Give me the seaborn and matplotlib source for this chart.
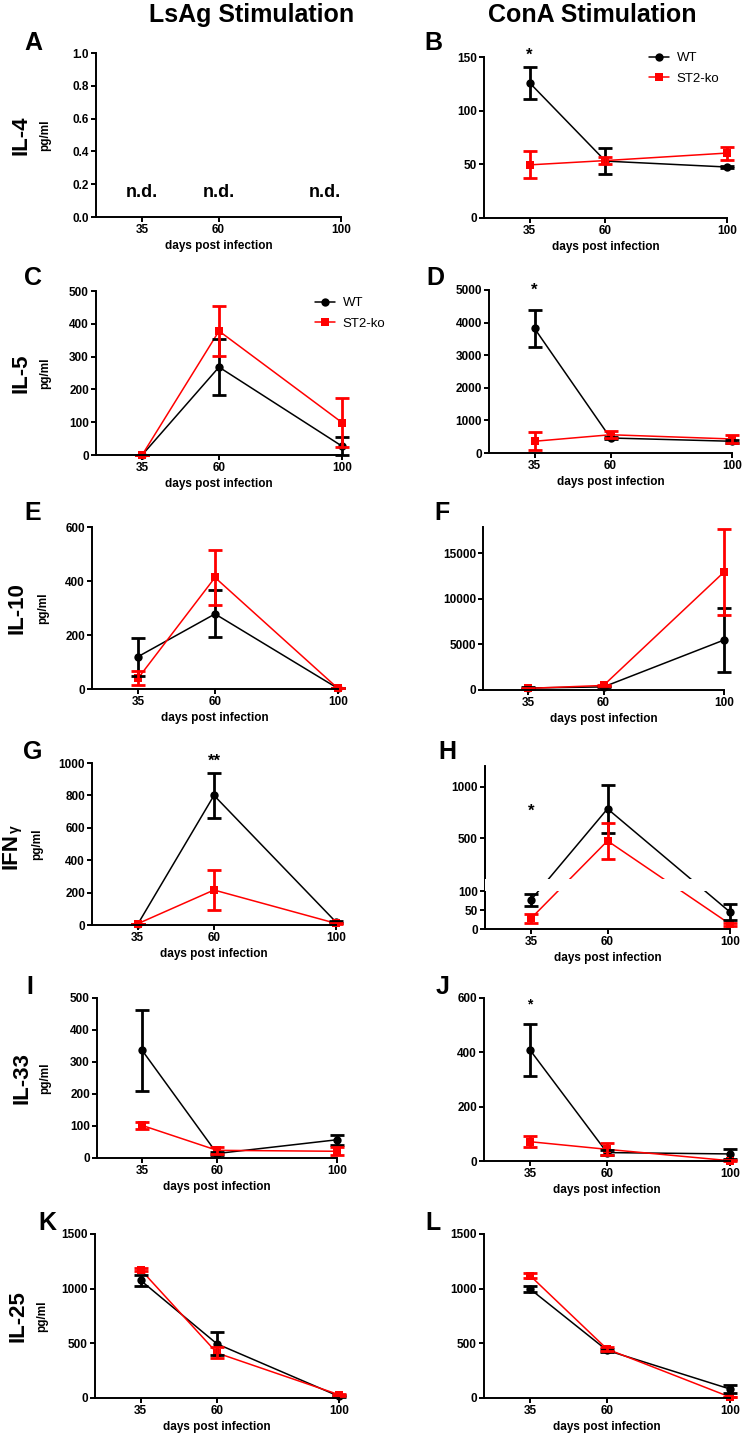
import numpy as np
import pandas as pd
import matplotlib
matplotlib.use('Agg')
import matplotlib.pyplot as plt
import seaborn as sns
from matplotlib.ticker import FormatStrFormatter

sns.set_style("ticks")
plt.rcParams['font.family'] = ['Liberation Sans', 'DejaVu Sans']
plt.rcParams['font.weight'] = 'bold'
for key in ['axes.edgecolor', 'xtick.color', 'ytick.color', 'text.color', 'axes.labelcolor']:
    plt.rcParams[key] = 'black'

# ---- data (mean +/- SEM) ----
days = [35, 60, 100]
groups = ['WT', 'ST2-ko']

# A: IL-4, LsAg -> not detected
nd_days = [35, 60, 100]
nd_level = 0.15

# B: IL-4, ConA
B_wt = [126, 53, 47.5];      B_wt_sem = [15, 12, 1]
B_ko = [49.5, 53.5, 60.5];   B_ko_sem = [12.5, 3, 6]
# C: IL-5, LsAg
C_wt = [0, 268, 27];         C_wt_sem = [0, 85, 27]
C_ko = [0, 378, 99];         C_ko_sem = [0, 75, 75]
# D: IL-5, ConA
D_wt = [3820, 460, 360];     D_wt_sem = [575, 40, 40]
D_ko = [360, 560, 430];      D_ko_sem = [275, 100, 120]
# E: IL-10, LsAg
E_wt = [120, 278, 2];        E_wt_sem = [70, 87, 0]
E_ko = [40, 413, 2];         E_ko_sem = [25, 103, 0]
# F: IL-10, ConA
F_wt = [220, 340, 5490];     F_wt_sem = [60, 60, 3500]
F_ko = [180, 500, 12950];    F_ko_sem = [60, 80, 4700]
# G: IFNg, LsAg
G_wt = [5, 800, 18];         G_wt_sem = [0, 137, 8]
G_ko = [8, 216, 10];         G_ko_sem = [0, 122, 5]
# H: IFNg, ConA (segmented y axis)
H_wt = [77, 785, 45];        H_wt_sem = [15, 230, 21]
H_ko = [28, 474, 13];        H_ko_sem = [12, 175, 4]
# I: IL-33, LsAg
I_wt = [337, 14, 57];        I_wt_sem = [127, 5, 16]
I_ko = [102, 24, 21];        I_ko_sem = [12, 10, 12]
# J: IL-33, ConA
J_wt = [408, 31, 26];        J_wt_sem = [95, 10, 20]
J_ko = [71, 43, 1];          J_ko_sem = [20, 22, 2]
# K: IL-25, LsAg
K_wt = [1075, 495, 15];      K_wt_sem = [50, 105, 8]
K_ko = [1174, 412, 30];      K_ko_sem = [15, 50, 8]
# L: IL-25, ConA
L_wt = [997, 436, 82];       L_wt_sem = [30, 12, 35]
L_ko = [1119, 448, 9];       L_ko_sem = [20, 15, 4]

row_labels = ['IL-4', 'IL-5', 'IL-10', 'IFN', 'IL-33', 'IL-25']
col_titles = ['LsAg Stimulation', 'ConA Stimulation']
x_title = 'days post infection'

series = {
    'B': (B_wt, B_wt_sem, B_ko, B_ko_sem), 'C': (C_wt, C_wt_sem, C_ko, C_ko_sem),
    'D': (D_wt, D_wt_sem, D_ko, D_ko_sem), 'E': (E_wt, E_wt_sem, E_ko, E_ko_sem),
    'F': (F_wt, F_wt_sem, F_ko, F_ko_sem), 'G': (G_wt, G_wt_sem, G_ko, G_ko_sem),
    'H': (H_wt, H_wt_sem, H_ko, H_ko_sem), 'I': (I_wt, I_wt_sem, I_ko, I_ko_sem),
    'J': (J_wt, J_wt_sem, J_ko, J_ko_sem), 'K': (K_wt, K_wt_sem, K_ko, K_ko_sem),
    'L': (L_wt, L_wt_sem, L_ko, L_ko_sem),
}
ylims = {'A': (0, 1), 'B': (0, 150), 'C': (0, 500), 'D': (0, 5000), 'E': (0, 600),
         'F': (0, 17900), 'G': (0, 1000), 'H': (0, 1200), 'I': (0, 500), 'J': (0, 600),
         'K': (0, 1500), 'L': (0, 1500)}
yticks = {'A': [0, 0.2, 0.4, 0.6, 0.8, 1.0], 'B': [0, 50, 100, 150], 'C': range(0, 501, 100),
          'D': range(0, 5001, 1000), 'E': [0, 200, 400, 600], 'F': [0, 5000, 10000, 15000],
          'G': range(0, 1001, 200), 'H': [0, 50, 100, 500, 1000], 'I': range(0, 501, 100),
          'J': [0, 200, 400, 600], 'K': [0, 500, 1000, 1500], 'L': [0, 500, 1000, 1500]}
stars = {'B': (35, 152, '*'), 'D': (35, 5000, '*'), 'G': (60, 1008, '**'),
         'H': (35, 762, '*'), 'J': (35, 576, '*')}

# ---- layout (pixels) ----
W, H = 747, 1439
fx = lambda px: px / W
fy = lambda py: 1 - py / H
box = {'A': (96, 341, 53, 217), 'B': (484, 727, 57, 218),
       'C': (96, 342, 291, 455), 'D': (489, 732, 290, 453),
       'E': (92, 338, 527, 689), 'F': (483, 724, 527, 690),
       'G': (92, 336, 763, 925), 'H': (485, 730, 766, 929),
       'I': (97, 337, 998, 1158), 'J': (484, 730, 998, 1161),
       'K': (95, 339, 1234, 1398), 'L': (484, 730, 1234, 1398)}
letter_pos = {'A': (33, 43), 'B': (433, 43), 'C': (33, 278), 'D': (435, 278),
              'E': (33, 513), 'F': (442, 513), 'G': (33, 752), 'H': (447, 752),
              'I': (30, 987), 'J': (443, 987), 'K': (47, 1223), 'L': (433, 1223)}
legend_anchor = {'B': (649, 52), 'C': (315, 297)}
row_label_x = [21, 21, 17, 11, 22, 18]
unit_x = [45, 45, 43, 37, 45, 42]
palette = {'WT': 'black', 'ST2-ko': 'red'}
markers = {'WT': 'o', 'ST2-ko': 's'}


# segmented axis for panel H: 0-100 below, 100-1200 above
def seg_fwd(y):
    y = np.asarray(y, dtype=float)
    return np.where(y <= 100, y * 0.38, 50 + (y - 100) * 0.104)


def seg_inv(u):
    u = np.asarray(u, dtype=float)
    return np.where(u <= 38, u / 0.38, np.where(u < 50, 100.0, 100 + (u - 50) / 0.104))


fig = plt.figure(figsize=(W / 100, H / 100), dpi=100)

for i, t in enumerate(col_titles):
    fig.text(fx([252, 592][i]), fy(15), t, ha='center', va='center', fontsize=18, fontweight='bold')

gtxt = None
for r, lab in enumerate(row_labels):
    cy = (box['ACEGIK'[r]][2] + box['ACEGIK'[r]][3]) / 2
    shift = 7 if lab == 'IFN' else 0
    t = fig.text(fx(row_label_x[r]), fy(cy + shift), lab, rotation=90, ha='center', va='center',
                 fontsize=16, fontweight='bold')
    if lab == 'IFN':
        gtxt = t
    fig.text(fx(unit_x[r]), fy(cy), 'pg/ml', rotation=90, ha='center', va='center',
             fontsize=8.5, fontweight='bold')

for p in 'ABCDEFGHIJKL':
    l, rgt, top, bot = box[p]
    ax = fig.add_axes([fx(l), fy(bot), (rgt - l) / W, (bot - top) / H])
    if p in series:
        wt, wt_sem, ko, ko_sem = series[p]
        df = pd.DataFrame({'day': days * 2, 'value': wt + ko,
                           'group': ['WT'] * 3 + ['ST2-ko'] * 3})
        show_leg = p in legend_anchor
        sns.lineplot(data=df, x='day', y='value', hue='group', style='group',
                     hue_order=groups, style_order=groups, palette=palette,
                     markers=markers, dashes=False, markersize=6, linewidth=1.1,
                     markeredgewidth=0, errorbar=None, legend=show_leg, ax=ax)
        for g, mean, sem in [('WT', wt, wt_sem), ('ST2-ko', ko, ko_sem)]:
            eb = ax.errorbar(days, mean, yerr=sem, fmt='none', ecolor=palette[g],
                             elinewidth=2, capsize=5, capthick=2)
            for a in list(eb.lines[1]) + list(eb.lines[2]):
                a.set_clip_on(False)
        for ln in ax.lines:
            ln.set_clip_on(False)
        if show_leg:
            leg = ax.get_legend()
            handles = leg.legend_handles
            labels = [tx.get_text() for tx in leg.get_texts()]
            leg.remove()
            anchor = legend_anchor[p]
            ax.legend(handles, labels, loc='upper left', bbox_to_anchor=(fx(anchor[0]), fy(anchor[1])),
                      bbox_transform=fig.transFigure, frameon=False, borderpad=0, borderaxespad=0,
                      handlelength=1.5, handletextpad=0.6, labelspacing=0.62,
                      prop={'weight': 'normal', 'size': 9.5})
    else:
        for d, ha in zip(nd_days, ['center', 'center', 'right']):
            ax.text(d, nd_level, 'n.d.', ha=ha, va='center', fontsize=13, fontweight='bold')

    if p == 'H':
        ax.set_yscale('function', functions=(seg_fwd, seg_inv))
        ax.axhspan(100, 100.0001, color='white', zorder=5, lw=0)
        ax.spines['left'].set_visible(False)
        for seg in [(0, 100), (100.0001, 1200)]:
            ax.plot([0, 0], seg, transform=ax.get_yaxis_transform(), color='black', lw=1.4,
                    clip_on=False, solid_capstyle='butt', zorder=6)

    ax.set_xlim(20, 100)
    ax.set_ylim(*ylims[p])
    ax.set_xticks(days)
    ax.set_yticks(list(yticks[p]))
    if p == 'A':
        ax.yaxis.set_major_formatter(FormatStrFormatter('%.1f'))
    ax.set_xlabel(x_title, fontsize=8.5, fontweight='bold', labelpad=3)
    ax.set_ylabel('')
    sns.despine(ax=ax)
    for s in ['left', 'bottom']:
        ax.spines[s].set_linewidth(1.4)
    ax.tick_params(direction='out', length=3.6, width=1.4, labelsize=8.5, pad=1.5)
    ax.set_facecolor('none')

    if p in stars:
        sx, sy, st = stars[p]
        ax.text(sx, sy, st, ha='center', va='center', fontsize=12 if p != 'J' else 10,
                fontweight='bold')

    fig.text(fx(letter_pos[p][0]), fy(letter_pos[p][1]), p, ha='center', va='center',
             fontsize=18, fontweight='bold')

# small gamma after "IFN"
fig.axes[0].annotate('γ', xy=(1, 1), xycoords=gtxt, xytext=(0, 0), textcoords='offset points',
                     rotation=90, ha='right', va='bottom', fontsize=10, fontweight='bold',
                     annotation_clip=False)

fig.savefig('out.png', dpi=100)
